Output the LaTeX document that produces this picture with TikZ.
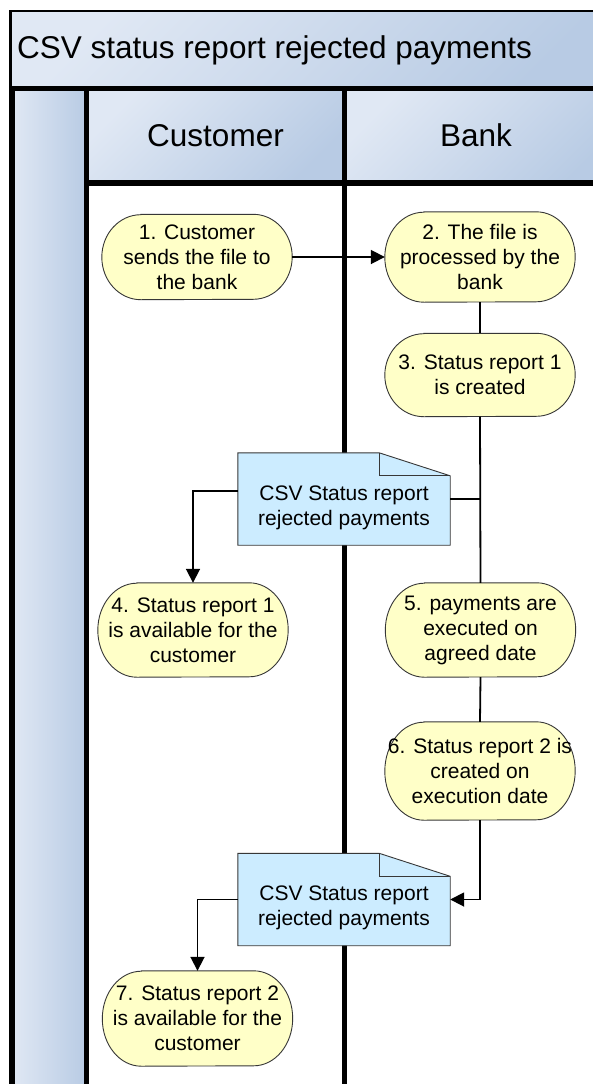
\documentclass[tikz,border=0pt]{standalone}
\usepackage{fontspec}
\setmainfont{Liberation Sans}
\usetikzlibrary{arrows.meta}
\pgfdeclarelayer{bg}
\pgfdeclarelayer{docs}
\pgfsetlayers{bg,docs,main}
\definecolor{hlight}{RGB}{224,232,244}
\definecolor{hdark}{RGB}{184,203,228}
\definecolor{stepfill}{RGB}{255,255,200}
\definecolor{docfill}{RGB}{204,236,255}
\definecolor{edge}{RGB}{55,55,55}
\newcommand{\doctxt}{\raisebox{-11pt}[0pt][0pt]{\parbox{210pt}{\centering\fontsize{21}{25}\selectfont CSV Status report\\rejected payments}}}
\tikzset{
  stepnode/.style={rectangle, minimum width=190pt, inner sep=0pt, align=center, font=\fontsize{21}{25}\selectfont},
  stepshape/.style={draw=edge, line width=0.9pt, fill=stepfill},
  docnode/.style={rectangle, minimum width=212pt, minimum height=92pt, inner sep=0pt},
  docshape/.style={draw=edge, line width=0.9pt, fill=docfill},
  conn/.style={line width=1.8pt, draw=black},
  arr/.style={conn, -{Triangle[length=14pt,width=14pt]}},
  laneline/.style={line width=5.5pt, draw=black},
  hdrshade/.style={top color=hlight, bottom color=hdark, shading angle=45},
  hdrtext/.style={font=\fontsize{31.5}{36}\selectfont, inner sep=0pt},
}
% terminator-shaped step: name, x, y, height, text
\newcommand{\stp}[5]{%
  \node[stepnode, minimum height=#4pt] (#1) at (#2,#3) {#5};
  \begin{pgfonlayer}{docs}
    \path[stepshape] ([xshift=39pt]#1.north west) -- ([xshift=-39pt]#1.north east)
      arc[start angle=90, end angle=-90, x radius=39pt, y radius=#4pt/2]
      -- ([xshift=39pt]#1.south west)
      arc[start angle=270, end angle=90, x radius=39pt, y radius=#4pt/2] -- cycle;
  \end{pgfonlayer}}
\begin{document}
\begin{tikzpicture}[x=1pt,y=-1pt]
\useasboundingbox (0,0) rectangle (593,1084);

% ---------- steps ----------
\stp{n1}{197}{257}{85}{1. Customer\\sends the file to\\the bank}
\stp{n2}{480}{257}{90}{2. The file is\\processed by the\\bank}
\stp{n3}{480}{375}{83}{3. Status report 1\\is created}
\stp{n4}{193}{630}{94}{4. Status report 1\\is available for the\\customer}
\stp{n5}{480.5}{630}{94}{5. payments are\\executed on\\agreed date}
\stp{n6}{480}{771}{98}{6. Status report 2 is\\created on\\execution date}
\stp{n7}{197.5}{1018.5}{95}{7. Status report 2\\is available for the\\customer}

% ---------- documents ----------
\node[docnode] (d1) at (344,499) {\doctxt};
\node[docnode] (d2) at (344,899.5) {\doctxt};

\begin{pgfonlayer}{docs}
  \foreach \d in {d1,d2}{
    \draw[docshape] (\d.south west) -- (\d.north west) -- ([xshift=-71pt]\d.north east)
      -- ([yshift=-23pt]\d.north east) -- (\d.south east) -- cycle;
    \draw[docshape, fill=none] ([xshift=-71pt]\d.north east) -- ([xshift=-71pt,yshift=-23pt]\d.north east)
      -- ([yshift=-23pt]\d.north east);
  }
\end{pgfonlayer}

% ---------- swimlanes ----------
\begin{pgfonlayer}{bg}
  \fill[white] (0,0) rectangle (593,1084);
  \shade[hdrshade] (10.5,11) rectangle (620,88.5);
  \shade[left color=hlight, right color=hdark] (12,88.5) rectangle (86.5,1100);
  \shade[hdrshade] (86.5,88.5) rectangle (344.5,183);
  \shade[hdrshade] (344.5,88.5) rectangle (620,183);
  \draw[line width=2.5pt] (10.5,88.5) -- (10.5,11) -- (620,11);
  \draw[laneline] (12,88.5) -- (12,1100);
  \draw[laneline] (86.5,88.5) -- (86.5,1100);
  \draw[laneline] (344.5,88.5) -- (344.5,1100);
  \draw[laneline] (9.5,88.5) -- (620,88.5);
  \draw[laneline] (86.5,183) -- (620,183);
\end{pgfonlayer}

\node[hdrtext, anchor=west] (title) at (17,50) {CSV status report rejected payments};
\node[hdrtext] (cust) at (215.5,135.5) {Customer};
\node[hdrtext] (bank) at (476,135.5) {Bank};

% ---------- connectors ----------
\draw[arr] (n1.east) -- (n2.west);
\draw[conn] (n2.south) -- (n3.north);
\draw[conn] (n3.south) -- (n5.north);
\coordinate (j1) at (n3.south |- d1.east);
\draw[conn] (d1.east) -- (j1);
\coordinate (d1out) at ([yshift=8pt]d1.west);
\draw[arr] (d1out) -| (n4.north);
\draw[conn] (n5.south) -- (n6.north);
\draw[arr] (n6.south) |- (d2.east);
\draw[arr] (d2.west) -| (n7.north);
\end{tikzpicture}
\end{document}
